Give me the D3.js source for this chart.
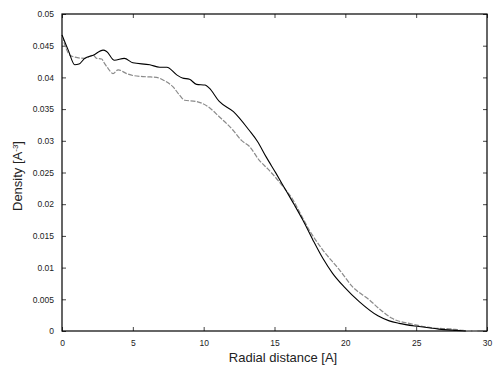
<!DOCTYPE html>
<html>
<head>
<meta charset="utf-8">
<script src="https://cdn.jsdelivr.net/npm/d3@7"></script>
<style>
  body { margin: 0; background: #fff; }
  svg { display: block; font-family: "Liberation Sans", Arial, sans-serif; }
</style>
</head>
<body>
<div id="chart"></div>
<script>
// radial distance [A] and density for the solid (black) profile
const solidR = [0, 0.44, 0.9, 1.2, 1.6, 2.2, 2.9, 3.15, 3.7, 4.4, 5.0, 6.2, 6.9, 7.4, 8.1, 8.5, 9.0, 9.5, 10.1, 10.4,
    11.1, 12.1, 13.2, 13.8, 14.4, 15.1, 15.8, 16.4, 17.0, 17.7, 18.4, 19.1, 19.9, 21.0, 22.3, 23.1, 23.8, 25.2, 26.6, 27.8, 28.5];
const solidD = [0.0467, 0.0443, 0.0420, 0.0421, 0.0430, 0.0435, 0.0443, 0.0441, 0.0427, 0.0430, 0.0423, 0.0420, 0.0416, 0.0416,
    0.0404, 0.0399, 0.0397, 0.0389, 0.0388, 0.0383, 0.0362, 0.0346, 0.0317, 0.0299, 0.0275, 0.0249, 0.0222, 0.0199, 0.0175,
    0.0144, 0.0115, 0.0091, 0.0070, 0.0046, 0.0024, 0.0016, 0.0012, 0.0007, 0.0003, 0.0001, 0.0000];

// dashed (grey) profile
const dashR = [0, 0.3, 0.56, 0.92, 1.6, 2.2, 2.45, 2.8, 3.0, 3.26, 3.6, 3.96, 4.56, 5.0, 5.96, 6.67, 7.13, 7.84, 8.3, 8.66,
    9.5, 10.3, 11.1, 12.06, 12.65, 13.24, 13.9, 14.6, 15.6, 16.3, 16.76, 17.46, 18.4, 19.6, 20.5, 21.7, 22.4, 23.3, 24.7,
    26.1, 27.6, 28.3, 29.4];
const dashD = [0.0465, 0.0445, 0.0435, 0.0432, 0.0430, 0.0435, 0.0430, 0.0429, 0.0422, 0.0414, 0.0406, 0.0412, 0.0406,
    0.0403, 0.0401, 0.0400, 0.0396, 0.0385, 0.0372, 0.0364, 0.0362, 0.0354, 0.0338, 0.0317, 0.0301, 0.0291, 0.0270,
    0.0254, 0.0228, 0.0207, 0.0188, 0.0159, 0.0128, 0.0096, 0.0070, 0.0049, 0.0035, 0.0020, 0.0011, 0.0005, 0.0003,
    0.0001, 0.0000];

const xTicks = [0, 5, 10, 15, 20, 25, 30];
const yTicks = [0, 0.005, 0.01, 0.015, 0.02, 0.025, 0.03, 0.035, 0.04, 0.045, 0.05];

function createChart() {
    const width = 498;
    const height = 370;
    const margin = { top: 14, right: 11, bottom: 39, left: 62 };

    const svg = d3.select('#chart')
        .append('svg')
        .attr('width', width)
        .attr('height', height);

    const x = d3.scaleLinear().domain([0, 30]).range([margin.left, width - margin.right]);
    const y = d3.scaleLinear().domain([0, 0.05]).range([height - margin.bottom, margin.top]);

    const tickLen = 4;
    const fmt = d => String(+d.toFixed(3));

    // axes with inward ticks, mirrored on top and right
    const bottom = svg.append('g')
        .attr('transform', `translate(0,${y(0)})`)
        .call(d3.axisBottom(x).tickValues(xTicks).tickFormat(fmt).tickSizeInner(-tickLen).tickSizeOuter(0));
    bottom.selectAll('.tick text').attr('y', 9);

    const left = svg.append('g')
        .attr('transform', `translate(${x(0)},0)`)
        .call(d3.axisLeft(y).tickValues(yTicks).tickFormat(fmt).tickSizeInner(-tickLen).tickSizeOuter(0));
    left.selectAll('.tick text').attr('x', -8);

    const top = svg.append('g')
        .attr('transform', `translate(0,${y(0.05)})`)
        .call(d3.axisTop(x).tickValues(xTicks).tickFormat('').tickSizeInner(-tickLen).tickSizeOuter(0));

    const right = svg.append('g')
        .attr('transform', `translate(${x(30)},0)`)
        .call(d3.axisRight(y).tickValues(yTicks).tickFormat('').tickSizeInner(-tickLen).tickSizeOuter(0));

    [bottom, left, top, right].forEach(g => {
        g.select('.domain').remove();
        g.selectAll('.tick line').attr('stroke', '#444');
        g.selectAll('.tick text').attr('fill', '#222').style('font-size', '8.5px');
    });

    // frame
    svg.append('rect')
        .attr('x', x(0))
        .attr('y', y(0.05))
        .attr('width', x(30) - x(0))
        .attr('height', y(0) - y(0.05))
        .attr('fill', 'none')
        .attr('stroke', '#000')
        .attr('stroke-width', 1.2);

    const line = d3.line().x(d => x(d[0])).y(d => y(d[1])).curve(d3.curveMonotoneX);

    svg.append('path')
        .datum(dashR.map((r, i) => [r, dashD[i]]))
        .attr('d', line)
        .attr('fill', 'none')
        .attr('stroke', '#8a8a8a')
        .attr('stroke-width', 1.2)
        .attr('stroke-dasharray', '5,1.5');

    svg.append('path')
        .datum(solidR.map((r, i) => [r, solidD[i]]))
        .attr('d', line)
        .attr('fill', 'none')
        .attr('stroke', '#000')
        .attr('stroke-width', 1.1);

    // axis titles
    svg.append('text')
        .attr('x', 283)
        .attr('y', 362)
        .attr('text-anchor', 'middle')
        .attr('fill', '#222')
        .style('font-size', '13px')
        .text('Radial distance [A]');

    const yt = svg.append('text')
        .attr('transform', 'translate(22,176) rotate(-90)')
        .attr('text-anchor', 'middle')
        .attr('fill', '#222')
        .style('font-size', '13px');
    yt.append('tspan').text('Density [A');
    yt.append('tspan').attr('dy', -4).style('font-size', '8px').text('-3');
    yt.append('tspan').attr('dy', 4).text(']');
}

createChart();
</script>
</body>
</html>
